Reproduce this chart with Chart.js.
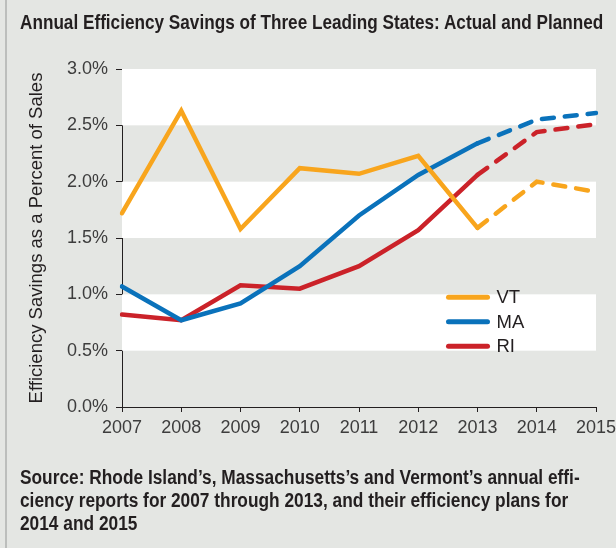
<!DOCTYPE html>
<html>
<head>
<meta charset="utf-8">
<script src="https://cdn.jsdelivr.net/npm/chart.js@4.4.1/dist/chart.umd.min.js"></script>
<style>
    html, body { margin: 0; padding: 0; }
    body {
        width: 616px; height: 548px; overflow: hidden; position: relative;
        background: #e4e6e3;
        font-family: "Liberation Sans", Arial, sans-serif;
        color: #231f20;
    }
    #edge { position: absolute; left: 5px; top: 0; width: 2px; height: 548px; background: #bcbebc; }
    #title { position: absolute; left: 20px; top: 10px; font-size: 21px; font-weight: bold; white-space: nowrap; transform-origin: 0 0; }
    #chartBox { position: absolute; left: 0; top: 0; width: 616px; height: 548px; }
    #source { position: absolute; left: 20px; top: 466px; font-size: 19.5px; font-weight: bold; line-height: 23px; white-space: nowrap; transform-origin: 0 0; }
</style>
</head>
<body>
<div id="edge"></div>
<div id="chartBox"><canvas id="effChart"></canvas></div>
<div id="title">Annual Efficiency Savings of Three Leading States: Actual and Planned</div>
<div id="source">Source: Rhode Island’s, Massachusetts’s and Vermont’s annual effi-<br>ciency reports for 2007 through 2013, and their efficiency plans for<br>2014 and 2015</div>
<script>
// dati (% delle vendite)
const years = ["2007", "2008", "2009", "2010", "2011", "2012", "2013", "2014", "2015"];
const vtValues = [1.72, 2.63, 1.58, 2.12, 2.07, 2.23, 1.59, 2.00, 1.91];
const maValues = [1.07, 0.77, 0.92, 1.25, 1.70, 2.06, 2.34, 2.55, 2.61];
const riValues = [0.82, 0.77, 1.08, 1.05, 1.25, 1.57, 2.06, 2.44, 2.51];
const yTicks = [0, 0.5, 1.0, 1.5, 2.0, 2.5, 3.0];
const lastActualIndex = 6; // dal 2013 in poi: piani (tratteggio)

const siteFont = "'Liberation Sans', Arial, sans-serif";

// il testo HTML è in un carattere condensato: lo stringiamo fino alla larghezza dell'originale
function fitWidth(id, width) {
    const el = document.getElementById(id);
    el.style.transform = "scaleX(" + (width / el.scrollWidth) + ")";
}
fitWidth("title", 583);
fitWidth("source", 560);

const dashAfterActual = (ctx) => ctx.p0DataIndex >= lastActualIndex ? [12, 11] : undefined;

function makeSeries(label, data, color) {
    return {
        label: label,
        data: data,
        borderColor: color,
        backgroundColor: color,
        borderWidth: 4.5,
        borderCapStyle: "round",
        borderJoinStyle: "miter",
        pointRadius: 0,
        tension: 0,
        fill: false,
        segment: { borderDash: dashAfterActual }
    };
}

// fasce bianche alternate dentro l'area del grafico
const bandsPlugin = {
    id: "bands",
    beforeDatasetsDraw(chart) {
        const { ctx, chartArea, scales } = chart;
        const y = scales.y;
        ctx.save();
        ctx.fillStyle = "#ffffff";
        for (let i = 0; i < yTicks.length - 1; i++) {
            // bianco su 0.5-1.0, 1.5-2.0, 2.5-3.0
            if (i % 2 === 1) {
                const top = y.getPixelForValue(yTicks[i + 1]);
                const bottom = y.getPixelForValue(yTicks[i]);
                ctx.fillRect(chartArea.left, top, chartArea.right - chartArea.left, bottom - top);
            }
        }
        ctx.restore();
    }
};

// legenda disegnata dentro il grafico, vicino al 2013
const legendPlugin = {
    id: "insideLegend",
    afterDatasetsDraw(chart) {
        const { ctx, scales } = chart;
        const x0 = scales.x.getPixelForValue(6) - 29;
        const yTop = scales.y.getPixelForValue(0.975);
        ctx.save();
        ctx.font = "18.5px " + siteFont;
        ctx.textBaseline = "middle";
        chart.data.datasets.forEach((ds, i) => {
            const yy = yTop + i * 24.5;
            ctx.strokeStyle = ds.borderColor;
            ctx.lineWidth = 5;
            ctx.lineCap = "round";
            ctx.beginPath();
            ctx.moveTo(x0, yy);
            ctx.lineTo(x0 + 39, yy);
            ctx.stroke();
            ctx.fillStyle = "#231f20";
            ctx.fillText(ds.label, x0 + 48, yy + 1);
        });
        ctx.restore();
    }
};

const ctx = document.getElementById("effChart").getContext("2d");
new Chart(ctx, {
    type: "line",
    data: {
        labels: years,
        datasets: [
            makeSeries("VT", vtValues, "#f8a51d"),
            makeSeries("MA", maValues, "#0a72bb"),
            makeSeries("RI", riValues, "#cb2229")
        ]
    },
    plugins: [bandsPlugin, legendPlugin],
    options: {
        responsive: true,
        maintainAspectRatio: false,
        animation: false,
        layout: { padding: { top: 69, left: 0, right: 20, bottom: 111 } },
        plugins: {
            legend: { display: false },
            tooltip: { enabled: false },
            title: { display: false }
        },
        scales: {
            x: {
                offset: false,
                afterFit(axis) {
                    axis.height = 30;
                    axis.paddingLeft = 0;
                    axis.paddingRight = 0;
                },
                grid: {
                    drawOnChartArea: false,
                    drawTicks: true,
                    tickLength: 5,
                    color: "#231f20"
                },
                border: { display: true, color: "#231f20", width: 1 },
                ticks: {
                    font: { size: 18, family: siteFont },
                    color: "#3d3d3d",
                    padding: 5,
                    maxRotation: 0,
                    autoSkip: false
                }
            },
            y: {
                min: 0,
                max: 3,
                afterFit(axis) { axis.width = 122; },
                afterBuildTicks(axis) {
                    axis.ticks = yTicks.map((v) => ({ value: v }));
                },
                grid: {
                    drawOnChartArea: false,
                    drawTicks: true,
                    tickLength: 6,
                    color: "#231f20"
                },
                border: { display: true, color: "#231f20", width: 1 },
                ticks: {
                    font: { size: 18, family: siteFont },
                    color: "#3d3d3d",
                    padding: 8,
                    callback: (v) => v.toFixed(1) + "%"
                },
                title: {
                    display: true,
                    text: "Efficiency Savings as a Percent of Sales",
                    font: { size: 18.5, family: siteFont },
                    color: "#231f20",
                    padding: { top: 26, bottom: 0 }
                }
            }
        }
    }
});
</script>
</body>
</html>
